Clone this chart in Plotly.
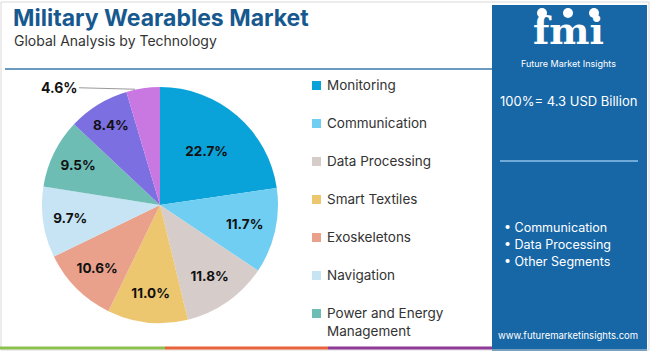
import math
import plotly.graph_objects as go

# ---------------- data ----------------
categories = ["Monitoring", "Communication", "Data Processing", "Smart Textiles",
              "Exoskeletons", "Navigation", "Power and Energy Management",
              "Tracking", "Others"]
shares = [22.7, 11.7, 11.8, 11.0, 10.6, 9.7, 9.5, 8.4, 4.6]
colors = ["#0aa3d9", "#6fcef1", "#d6ccc9", "#edc76f", "#eaa18b",
          "#c6e4f4", "#6dbdb5", "#7c6fe1", "#c978e2"]
legend_labels = ["Monitoring", "Communication", "Data Processing", "Smart Textiles",
                 "Exoskeletons", "Navigation", "Power and Energy<br>Management"]
bullet_items = ["Communication", "Data Processing", "Other Segments"]
total_text = "100%= 4.3 USD Billion"

W, H = 650, 351


def px(x):
    return x / W


def py(y):
    return 1 - y / H


# pie geometry (pixels)
cx, cy, r = 160, 205, 118
outside_idx = len(shares) - 1
texts = [f"{v:.1f}%" if i != outside_idx else "" for i, v in enumerate(shares)]

fig = go.Figure()
fig.add_trace(go.Pie(
    labels=categories, values=shares, sort=False, direction="clockwise",
    rotation=0, marker=dict(colors=colors, line=dict(color="white", width=0)),
    text=texts, textinfo="text", textposition="inside",
    insidetextorientation="horizontal",
    insidetextfont=dict(family="Inter", size=13.5, color="#111111", weight="bold"),
    hoverinfo="label+percent", showlegend=False,
    domain=dict(x=[px(cx - r), px(cx + r)], y=[py(cy + r), py(cy - r)]),
))

shapes = []
annotations = []


def note(text, x, y, size, color, xanchor="center", yanchor="middle", family="Inter", align="left"):
    annotations.append(dict(text=text, x=px(x), y=py(y), xref="paper", yref="paper",
                            xanchor=xanchor, yanchor=yanchor, showarrow=False, align=align,
                            font=dict(family=family, size=size, color=color)))


# outer border
shapes.append(dict(type="rect", xref="paper", yref="paper", x0=px(1), x1=px(649),
                   y0=py(350), y1=py(2), line=dict(color="#d9d9d9", width=1)))

# header line
shapes.append(dict(type="line", xref="paper", yref="paper", x0=px(5), x1=px(492),
                   y0=py(69), y1=py(69), line=dict(color="#3a78ad", width=1.5)))

# bottom colour bar
for x0, x1, c in [(0, 165, "#8dc14f"), (165, 328, "#e8633a"), (328, 492, "#8e3a96")]:
    shapes.append(dict(type="line", xref="paper", yref="paper", x0=px(x0), x1=px(x1),
                       y0=py(348), y1=py(348), line=dict(color=c, width=3)))

# right panel
panel = "#1767a7"
shapes.append(dict(type="rect", xref="paper", yref="paper", x0=px(492), x1=px(647),
                   y0=py(351), y1=py(5), fillcolor=panel, line=dict(width=0), layer="below"))
shapes.append(dict(type="line", xref="paper", yref="paper", x0=px(500), x1=px(638),
                   y0=py(161), y1=py(161), line=dict(color="#8fc1e8", width=1.5)))

# title
note("<b>Military Wearables Market</b>", 11, 18, 23, "#17598f", xanchor="left")
note("Global Analysis by Technology", 12, 40, 14, "#333333", xanchor="left")

# legend (custom)
lx, ly0, dy = 312, 85, 38
for i, lab in enumerate(legend_labels):
    yy = ly0 + i * dy
    shapes.append(dict(type="rect", xref="paper", yref="paper",
                       x0=px(lx), x1=px(lx + 9), y0=py(yy + 5), y1=py(yy - 4),
                       fillcolor=colors[i], line=dict(width=0)))
    note(lab, lx + 13, yy - 10, 13.5, "#333333", xanchor="left", yanchor="top")

# outside label for the smallest slice
cum_before = sum(shares[:outside_idx])
mid = (cum_before + shares[outside_idx] / 2) / sum(shares)
ang = 2 * math.pi * mid
tipx = cx + r * math.sin(ang)
tipy = cy - r * math.cos(ang)
annotations.append(dict(text=f"<b>{shares[outside_idx]:.1f}%</b>", x=px(tipx - 8), y=py(tipy + 1),
                        xref="paper", yref="paper", showarrow=True, arrowhead=0,
                        arrowwidth=1, arrowcolor="#999999", ax=-76, ay=-2,
                        font=dict(family="Inter", size=14, color="#111111")))

# panel texts
note("<b>fmi</b>", 568, 31, 38, "white", family="DejaVu Serif")
for cxx in [542, 568, 594]:
    shapes.append(dict(type="circle", xref="paper", yref="paper",
                       x0=px(cxx - 5), x1=px(cxx + 5), y0=py(18), y1=py(8),
                       fillcolor="white", line=dict(width=0)))
note("Future Market Insights", 568, 63, 9, "white")
note(total_text, 568, 101, 13, "white")
for i, b in enumerate(bullet_items):
    note("• " + b, 502, 227 + 17 * i, 12.5, "white", xanchor="left")
note("www.futuremarketinsights.com", 568, 335, 9.5, "white")

fig.update_layout(width=W, height=H, margin=dict(l=0, r=0, t=0, b=0),
                  paper_bgcolor="white", plot_bgcolor="white",
                  shapes=shapes, annotations=annotations, showlegend=False)

fig.write_html("out.html")
